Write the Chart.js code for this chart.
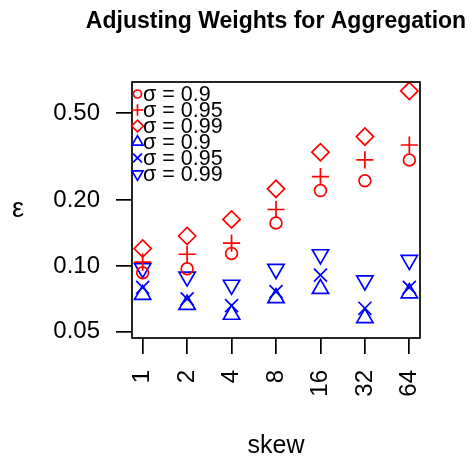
<!DOCTYPE html>
<html>
<head>
<meta charset="utf-8">
<title>Adjusting Weights for Aggregation</title>
<script src="https://cdn.jsdelivr.net/npm/chart.js@4/dist/chart.umd.min.js"></script>
<style>
  html, body { margin: 0; padding: 0; background: #fff; }
</style>
</head>
<body>
<canvas id="chart" width="472" height="459"></canvas>
<script>
const FONT = '"Liberation Sans", Arial, Helvetica, sans-serif';

const skew = [1, 2, 4, 8, 16, 32, 64];
const epsTicks = [0.05, 0.10, 0.20, 0.50];
const sigmaLabels = ['σ = 0.9', 'σ = 0.95', 'σ = 0.99', 'σ = 0.9', 'σ = 0.95', 'σ = 0.99'];

// red runs
const redSigma90 = [0.093, 0.097, 0.114, 0.157, 0.221, 0.245, 0.305];
const redSigma95 = [0.104, 0.113, 0.127, 0.181, 0.256, 0.305, 0.357];
const redSigma99 = [0.120, 0.137, 0.163, 0.225, 0.331, 0.390, 0.631];
// blue runs
const blueSigma90 = [0.0738, 0.0665, 0.0599, 0.0713, 0.0786, 0.0578, 0.0751];
const blueSigma95 = [0.0798, 0.0706, 0.0658, 0.0762, 0.0908, 0.0640, 0.0798];
const blueSigma99 = [0.0974, 0.0892, 0.0818, 0.0967, 0.1128, 0.0856, 0.1062];

const RED = '#ff0000';
const BLUE = '#0000ff';
const LW = 1.7;

function series(label, values, color, style, radius, rotation) {
    return {
        label: label,
        data: skew.map((s, i) => ({ x: s, y: values[i] })),
        showLine: false,
        borderColor: color,
        backgroundColor: 'rgba(0,0,0,0)',
        pointStyle: style,
        pointRadius: radius,
        pointHoverRadius: radius,
        pointRotation: rotation || 0,
        pointBorderWidth: LW
    };
}

const datasets = [
    series(sigmaLabels[0], redSigma90, RED, 'circle', 5.9),
    series(sigmaLabels[1], redSigma95, RED, 'cross', 8.6),
    series(sigmaLabels[2], redSigma99, RED, 'rectRot', 8.6),
    series(sigmaLabels[3], blueSigma90, BLUE, 'triangle', 9.4),
    series(sigmaLabels[4], blueSigma95, BLUE, 'crossRot', 9.2),
    series(sigmaLabels[5], blueSigma99, BLUE, 'triangle', 9.4, 180)
];

// frame, title, y label and the in-plot key
const decor = {
    id: 'decor',
    afterDraw(chart) {
        const ctx = chart.ctx;
        const a = chart.chartArea;
        ctx.save();
        ctx.strokeStyle = '#000';
        ctx.lineWidth = LW;
        ctx.strokeRect(a.left, a.top, a.right - a.left, a.bottom - a.top);

        ctx.fillStyle = '#000';
        ctx.textAlign = 'center';
        ctx.textBaseline = 'alphabetic';
        ctx.font = 'bold 23px ' + FONT;
        ctx.fillText('Adjusting Weights for Aggregation', (a.left + a.right) / 2, 28);

        ctx.font = '27px ' + FONT;
        ctx.fillText('ε', 18, 217);

        chart.data.datasets.forEach((ds, i) => {
            const y = a.top + 12 + i * 16;
            ctx.strokeStyle = ds.borderColor;
            ctx.fillStyle = 'rgba(0,0,0,0)';
            ctx.lineWidth = LW;
            Chart.helpers.drawPoint(ctx, {
                pointStyle: ds.pointStyle,
                radius: ds.pointRadius * 0.68,
                rotation: ds.pointRotation,
                borderWidth: LW
            }, a.left + 5.5, y);
            ctx.fillStyle = '#000';
            ctx.textAlign = 'left';
            ctx.font = '21.5px ' + FONT;
            ctx.fillText(ds.label, a.left + 11, y + 7);
        });
        ctx.restore();
    }
};

new Chart(document.getElementById('chart'), {
    type: 'scatter',
    data: { datasets: datasets },
    plugins: [decor],
    options: {
        responsive: false,
        devicePixelRatio: 1,
        animation: false,
        layout: { padding: { left: 0, right: 52, top: 82, bottom: 0 } },
        plugins: {
            legend: { display: false },
            tooltip: { enabled: false },
            title: { display: false }
        },
        scales: {
            x: {
                type: 'logarithmic',
                bounds: 'data',
                min: Math.pow(2, -0.24),
                max: Math.pow(2, 6.24),
                afterBuildTicks: (scale) => { scale.ticks = skew.map(v => ({ value: v })); },
                afterFit: (scale) => { scale.height = 121; },
                border: { display: false },
                grid: {
                    drawOnChartArea: false,
                    drawTicks: true,
                    tickLength: 16,
                    color: '#000',
                    lineWidth: LW
                },
                ticks: {
                    autoSkip: false,
                    minRotation: 90,
                    maxRotation: 90,
                    padding: 16,
                    color: '#000',
                    font: { family: FONT, size: 24 },
                    callback: (v) => String(v)
                },
                title: {
                    display: true,
                    text: 'skew',
                    color: '#000',
                    font: { family: FONT, size: 25, lineHeight: 1 },
                    padding: { top: 0, bottom: 0 }
                }
            },
            y: {
                type: 'logarithmic',
                bounds: 'data',
                min: 0.0468,
                max: 0.693,
                afterBuildTicks: (scale) => { scale.ticks = epsTicks.map(v => ({ value: v })); },
                afterFit: (scale) => { scale.width = 132; },
                border: { display: false },
                grid: {
                    drawOnChartArea: false,
                    drawTicks: true,
                    tickLength: 16,
                    color: '#000',
                    lineWidth: LW
                },
                ticks: {
                    padding: 16,
                    color: '#000',
                    font: { family: FONT, size: 24 },
                    callback: (v) => Number(v).toFixed(2)
                }
            }
        }
    }
});
</script>
</body>
</html>
